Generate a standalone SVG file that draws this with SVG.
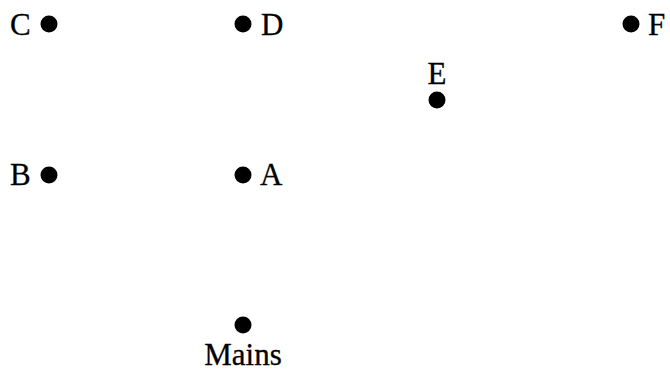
<svg xmlns="http://www.w3.org/2000/svg" width="670" height="371" viewBox="0 0 670 371">
<style>
.dot{fill:#000}
text{font-family:"Liberation Serif","Times New Roman",serif;font-size:31px;fill:#000;stroke:#000;stroke-width:0.3}
</style>
<rect width="670" height="371" fill="#fff"/>
<g id="connectors"></g>
<g id="C"><circle class="dot" cx="49" cy="24" r="8.5"/><text x="10" y="34.5">C</text></g>
<g id="D"><circle class="dot" cx="243" cy="24" r="8.5"/><text x="261" y="34.5">D</text></g>
<g id="E"><circle class="dot" cx="437" cy="100" r="8.5"/><text x="437" y="83.5" text-anchor="middle">E</text></g>
<g id="F"><circle class="dot" cx="631" cy="24" r="8.5"/><text x="648" y="34.5">F</text></g>
<g id="B"><circle class="dot" cx="49" cy="175" r="8.5"/><text x="10" y="185">B</text></g>
<g id="A"><circle class="dot" cx="243" cy="175" r="8.5"/><text x="260" y="185">A</text></g>
<g id="Mains"><circle class="dot" cx="243" cy="325" r="8.5"/><text x="243" y="364.5" text-anchor="middle">Mains</text></g>
</svg>
